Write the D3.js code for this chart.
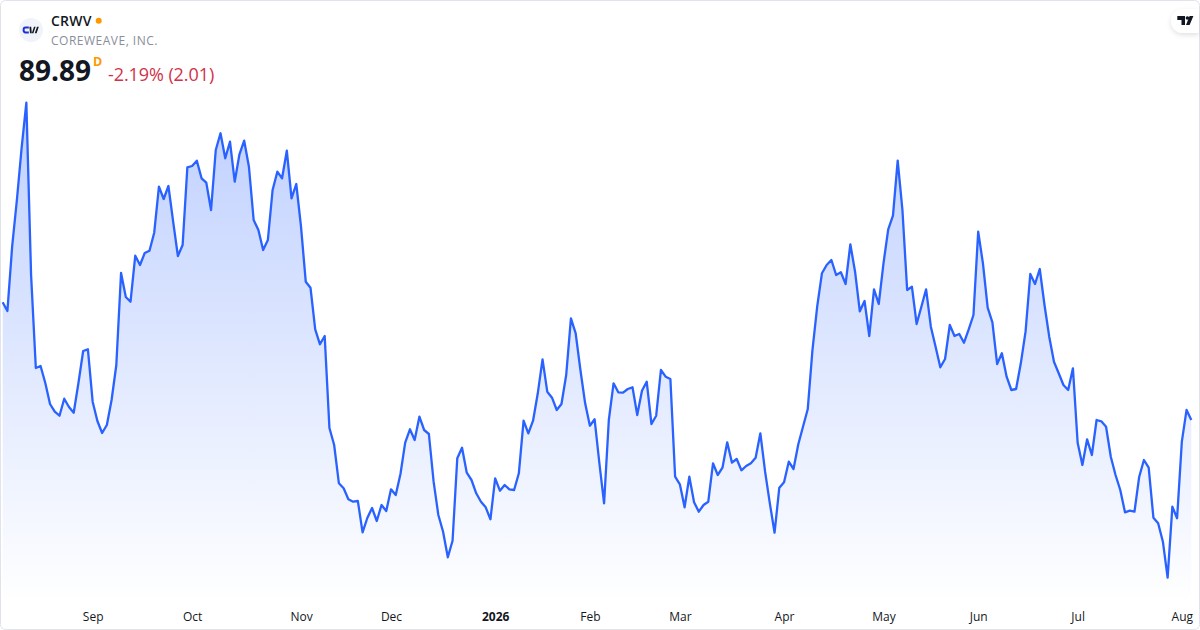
<!DOCTYPE html>
<html>
<head>
<meta charset="utf-8">
<script src="https://cdn.jsdelivr.net/npm/d3@7"></script>
<style>
  html, body { margin: 0; padding: 0; background: #fff; }
  svg { display: block; font-family: "Open Sans", "Noto Sans", sans-serif; }
  .tick text { font-size: 12px; fill: #131722; }
</style>
</head>
<body>
<svg id="chart" width="1200" height="630"></svg>
<script>
// daily closes, oldest first
const prices = [
  113.43, 111.69, 124.55, 133.89, 144.29, 153.35, 118.89, 100.29, 100.69, 97.29,
  93.09, 91.55, 90.75, 94.15, 92.49, 91.35, 97.29, 103.69, 104.03, 93.55,
  89.69, 87.29, 88.89, 93.89, 100.89, 119.29, 114.49, 113.55, 122.75, 120.89,
  123.29, 123.75, 127.35, 136.55, 134.09, 136.69, 129.55, 122.69, 124.89, 140.43,
  140.69, 141.75, 138.23, 137.35, 131.89, 143.89, 147.23, 142.23, 145.55, 137.55,
  143.03, 145.75, 140.55, 129.89, 127.89, 123.89, 125.89, 135.89, 139.55, 138.23,
  143.75, 134.23, 137.09, 128.55, 117.55, 116.35, 108.03, 105.03, 106.69, 88.29,
  84.89, 77.23, 76.23, 74.03, 73.55, 73.69, 67.43, 70.29, 72.29, 69.69,
  72.89, 71.69, 76.03, 74.89, 79.09, 85.35, 88.03, 85.89, 90.55, 87.89,
  87.09, 77.55, 70.89, 67.55, 62.43, 65.75, 82.23, 84.35, 79.35, 77.89,
  75.23, 73.55, 72.43, 70.03, 78.23, 75.75, 76.89, 76.03, 75.89, 79.23,
  89.75, 87.23, 89.75, 95.23, 102.03, 95.55, 94.35, 91.89, 93.09, 98.89,
  110.23, 107.23, 99.89, 93.23, 88.75, 90.03, 81.29, 73.23, 89.89, 97.23,
  95.43, 95.35, 96.09, 96.43, 90.89, 95.75, 97.55, 89.09, 90.75, 99.89,
  98.55, 98.09, 78.55, 77.03, 72.43, 78.55, 73.43, 71.55, 72.89, 73.55,
  81.23, 78.89, 80.35, 85.43, 81.35, 82.09, 79.83, 80.69, 81.23, 82.35,
  87.23, 79.55, 73.23, 67.35, 76.35, 77.43, 81.55, 80.09, 84.99, 88.55,
  92.03, 103.89, 112.55, 119.23, 120.89, 121.89, 118.89, 119.43, 117.09, 125.03,
  119.55, 111.63, 113.69, 106.69, 116.03, 113.09, 121.23, 128.03, 130.75, 141.75,
  131.89, 115.89, 116.55, 109.09, 112.55, 116.03, 108.55, 104.55, 100.43, 102.09,
  108.89, 106.69, 107.09, 105.35, 108.03, 110.89, 127.55, 121.23, 112.35, 109.43,
  101.09, 103.23, 98.55, 95.89, 96.09, 101.23, 107.55, 119.09, 117.09, 120.09,
  112.89, 106.55, 101.55, 99.23, 96.89, 95.89, 100.23, 85.35, 80.89, 86.03,
  82.89, 89.89, 89.63, 88.55, 82.55, 78.89, 75.89, 71.43, 71.75, 71.55,
  78.55, 81.89, 80.35, 70.35, 69.23, 65.55, 58.35, 72.55, 70.23, 85.55,
  91.90, 89.89
];

// which bar each time label sits under
const tickIndex = [19, 40, 63, 82, 104, 124, 143, 165, 186, 206, 227, 249];
const tickLabels = ["Sep", "Oct", "Nov", "Dec", "2026", "Feb", "Mar", "Apr", "May", "Jun", "Jul", "Aug"];

const symbol = "CRWV";
const companyName = "COREWEAVE, INC.";
const lastPrice = "89.89";
const priceChange = "-2.19% (2.01)";

const svg = d3.select("#chart");
const width = +svg.attr("width");
const height = +svg.attr("height");

const x = d3.scaleLinear().domain([0, prices.length - 1]).range([2.67, 1191.3]);
const y = d3.scaleLinear().domain(d3.extent(prices)).range([577.7, 102.7]);

// card background and border
svg.append("rect")
  .attr("x", 0.5).attr("y", 0.5)
  .attr("width", width - 1).attr("height", height - 1)
  .attr("rx", 5)
  .attr("fill", "#fff")
  .attr("stroke", "#e0e3eb");

const defs = svg.append("defs");
const grad = defs.append("linearGradient")
  .attr("id", "areaFill")
  .attr("gradientUnits", "userSpaceOnUse")
  .attr("x1", 0).attr("x2", 0)
  .attr("y1", y.range()[1]).attr("y2", 604);
grad.append("stop").attr("offset", 0).attr("stop-color", "#2962ff").attr("stop-opacity", 0.3);
grad.append("stop").attr("offset", 1).attr("stop-color", "#2962ff").attr("stop-opacity", 0);

defs.append("filter").attr("id", "pillShadow")
  .attr("x", "-30%").attr("y", "-30%").attr("width", "160%").attr("height", "170%")
  .append("feDropShadow")
  .attr("dx", 0).attr("dy", 2).attr("stdDeviation", 2.5)
  .attr("flood-color", "#000").attr("flood-opacity", 0.12);

// area under the line
const area = d3.area()
  .x((d, i) => x(i))
  .y0(604)
  .y1(d => y(d));

svg.append("path")
  .datum(prices)
  .attr("d", area)
  .attr("fill", "url(#areaFill)");

const line = d3.line()
  .x((d, i) => x(i))
  .y(d => y(d));

svg.append("path")
  .datum(prices)
  .attr("d", line)
  .attr("fill", "none")
  .attr("stroke", "#2962ff")
  .attr("stroke-width", 2.3)
  .attr("stroke-linejoin", "round");

// time axis, no line and no tick marks
const axis = d3.axisBottom(x)
  .tickValues(tickIndex)
  .tickSize(0)
  .tickPadding(0)
  .tickFormat((d, i) => tickLabels[i]);

const axisG = svg.append("g")
  .attr("transform", "translate(0,612.5)")
  .call(axis);
axisG.select(".domain").remove();
axisG.selectAll("text")
  .attr("font-family", "'Open Sans', sans-serif")
  .style("font-weight", (d, i) => tickLabels[i] === "2026" ? 700 : 400);

// header
const logo = svg.append("g").attr("transform", "translate(31,30)");
logo.append("circle").attr("r", 12).attr("fill", "#f0f3fa");
logo.append("path")
  .attr("d", "M-2.2,-2.4 L-5.5,-2.4 Q-7.4,-2.4 -7.4,0 Q-7.4,2.4 -5.5,2.4 L-2.2,2.4")
  .attr("fill", "none").attr("stroke", "#1c30d8").attr("stroke-width", 2);
logo.append("path")
  .attr("d", "M-1.6,-3.2 L-1,3.2 L0.8,3.2 L0.2,-3.2 Z M0.8,3.2 L3,-3.2 L4.6,-3.2 L2.4,3.2 Z M3.8,3.2 L6,-3.2 L7.8,-3.2 L5.6,3.2 Z")
  .attr("fill", "#131722");

svg.append("text")
  .attr("x", 51).attr("y", 26)
  .attr("font-size", 14).attr("font-weight", 600).attr("letter-spacing", 0.25)
  .attr("fill", "#131722")
  .text(symbol);

svg.append("circle").attr("cx", 98.7).attr("cy", 20.7).attr("r", 3).attr("fill", "#ff9800");

svg.append("text")
  .attr("x", 51).attr("y", 45)
  .attr("font-size", 12).attr("letter-spacing", 0.5)
  .attr("fill", "#8a8e99")
  .text(companyName);

svg.append("text")
  .attr("x", 19).attr("y", 81)
  .attr("font-size", 28).attr("font-weight", 700)
  .attr("fill", "#131722")
  .text(lastPrice);

svg.append("text")
  .attr("x", 93).attr("y", 66)
  .attr("font-size", 12.5).attr("font-weight", 700)
  .attr("fill", "#ff9800")
  .text("D");

svg.append("text")
  .attr("x", 108).attr("y", 81)
  .attr("font-size", 18).attr("letter-spacing", -0.08)
  .attr("fill", "#d0324a")
  .text(priceChange);

// TradingView mark in the corner
svg.append("path")
  .attr("d", "M1199,9 L1183,9 A12,12 0 0 0 1183,33 L1199,33 Z")
  .attr("fill", "#fff")
  .attr("filter", "url(#pillShadow)");
svg.append("path")
  .attr("d", "M1177.3,16 L1185,16 L1185,25 L1181.5,25 L1181.5,20 L1177.3,20 Z M1186,25 L1189.6,16 L1193.4,16 L1189.6,25 Z")
  .attr("fill", "#131722");
svg.append("circle").attr("cx", 1187.4).attr("cy", 18).attr("r", 1.8).attr("fill", "#131722");
</script>
</body>
</html>
